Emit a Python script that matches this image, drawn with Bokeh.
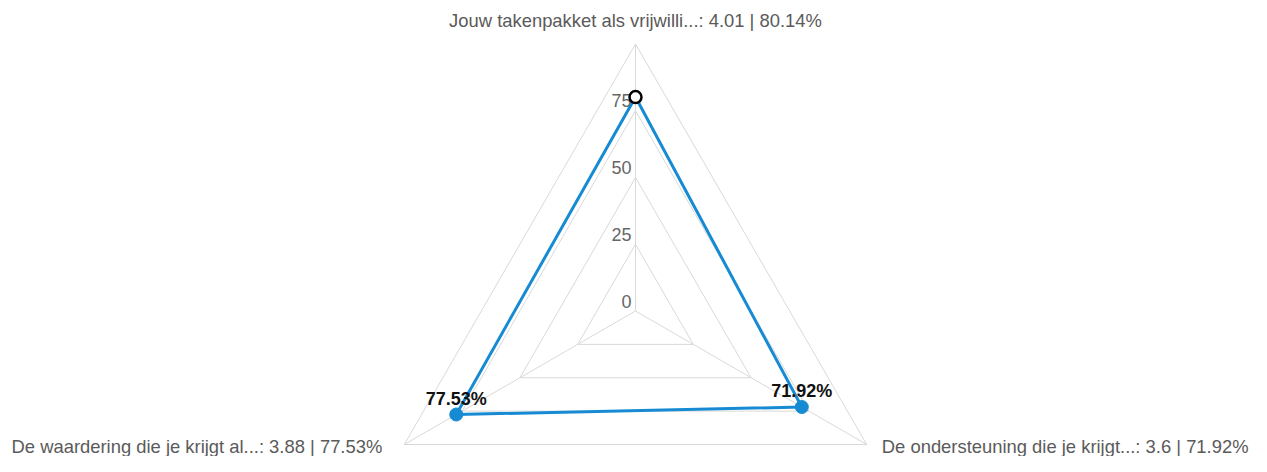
import math
from bokeh.plotting import figure
from bokeh.models import Range1d
from bokeh.core.properties import value
from bokeh.embed import file_html
from bokeh.resources import INLINE

# ---- data ----
categories = ["Jouw takenpakket als vrijwilli...",
              "De ondersteuning die je krijgt...",
              "De waardering die je krijgt al..."]
scores = [4.01, 3.6, 3.88]
percents = [80.14, 71.92, 77.53]
tick_values = [0, 25, 50, 75]
tick_labels = ["0", "25", "50", "75"]
grid_levels = [25, 50, 75, 100]

# ---- geometry ----
W, H = 1251, 456
PX = 2.67              # pixels per unit (100 -> 267 px)
CX, CY = 635, 310.5    # center in figure pixels
angles = [90 - i * 360 / len(categories) for i in range(len(categories))]

def pol(r, a):
    return r * math.cos(math.radians(a)), r * math.sin(math.radians(a))

x0 = -CX / PX
y1 = CY / PX
p = figure(width=W, height=H, output_backend="svg", toolbar_location=None,
           x_axis_type=None, y_axis_type=None, min_border=0,
           x_range=Range1d(x0, x0 + W / PX), y_range=Range1d(y1 - H / PX, y1))
p.outline_line_color = None
p.background_fill_color = "white"

FONT = value("Liberation Sans")
GRID = "#d9d9d9"

# grid polygons
for lv in grid_levels:
    xs = [pol(lv, a)[0] for a in angles] + [pol(lv, angles[0])[0]]
    ys = [pol(lv, a)[1] for a in angles] + [pol(lv, angles[0])[1]]
    p.line(xs, ys, line_color=GRID, line_width=1)
# spokes
for a in angles:
    ex, ey = pol(grid_levels[-1], a)
    p.line([0, ex], [0, ey], line_color=GRID, line_width=1)

# tick labels
p.text(x=[0] * len(tick_values), y=tick_values, text=tick_labels,
       text_font=FONT, text_font_size="18px", text_color="#666666",
       text_align="right", text_baseline="middle", x_offset=-4, y_offset=-10)

# axis labels
lab = [f"{c}: {s} | {pc}%" for c, s, pc in zip(categories, scores, percents)]
aligns = ["center", "right", "right"]
vx_list = [pol(grid_levels[-1], a) for a in angles]
# right label anchored at the right edge so it stays inside the canvas
xoffs = [0, (W - 3) - (CX + vx_list[1][0] * PX), -22]
yoffs = [-24, 2, 2]
for i in range(len(angles)):
    vx, vy = vx_list[i]
    p.text(x=[vx], y=[vy], text=[lab[i]], text_font=FONT, text_font_size="18.4px",
           text_color="#5a5a5a", text_align=aligns[i], text_baseline="middle",
           x_offset=xoffs[i], y_offset=yoffs[i])

# series
pts = [pol(v, a) for v, a in zip(percents, angles)]
px = [q[0] for q in pts]
py = [q[1] for q in pts]
BLUE = "#168bd3"
p.line(px + [px[0]], py + [py[0]], line_color=BLUE, line_width=3)
p.scatter(px[1:], py[1:], size=13, fill_color=BLUE, line_color=BLUE)
p.scatter(px[:1], py[:1], size=12, fill_color="white", line_color="black", line_width=2.5)

# data labels (not for the highlighted first point)
p.text(x=px[1:], y=py[1:], text=[f"{v}%" for v in percents[1:]],
       text_font=FONT, text_font_size="18px", text_font_style="bold",
       text_color="#111111", text_align="center", text_baseline="middle",
       y_offset=-16)

open("out.html", "w").write(file_html(p, INLINE))
